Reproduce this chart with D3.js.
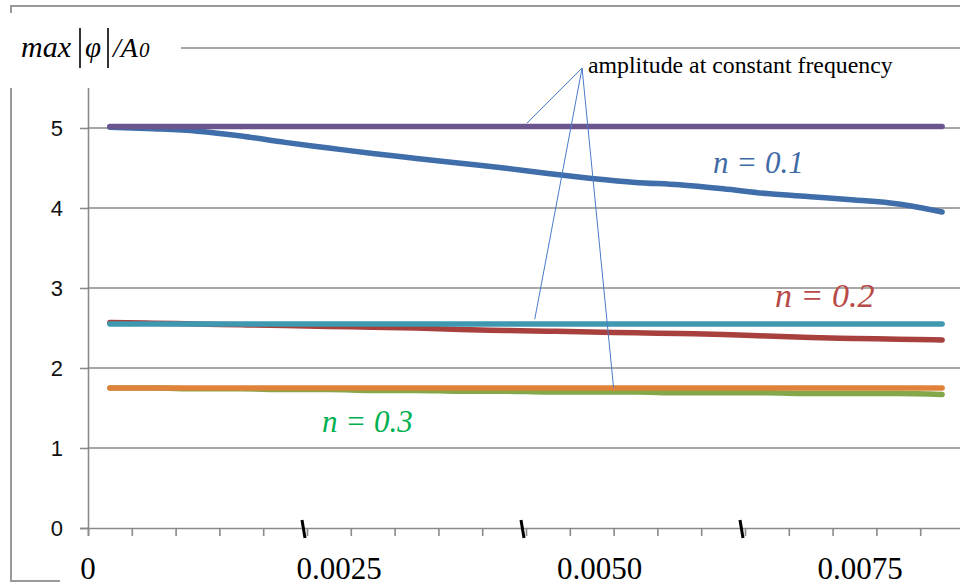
<!DOCTYPE html>
<html>
<head>
<meta charset="utf-8">
<script src="https://cdn.jsdelivr.net/npm/d3@7"></script>
<style>
  body { margin: 0; background: #fff; }
  svg { display: block; }
  .serif { font-family: "Liberation Serif", "Times New Roman", "DejaVu Serif", serif; }
</style>
</head>
<body>
<svg id="chart" width="960" height="586"></svg>
<script>
// x positions of the computed points
var xValues = [0.00025, 0.00075, 0.00125, 0.00175, 0.00225, 0.00275, 0.00325, 0.00375, 0.00425, 0.00475,
               0.00525, 0.00575, 0.00625, 0.00675, 0.00725, 0.00775, 0.00825, 0.00875, 0.00925, 0.00975];

// n = 0.1, 0.2, 0.3 and the matching constant frequency amplitudes
var n01 = [5.01, 4.99, 4.96, 4.90, 4.82, 4.75, 4.68, 4.62, 4.56, 4.50,
           4.43, 4.37, 4.32, 4.29, 4.24, 4.18, 4.14, 4.10, 4.05, 3.95];
var n02 = [2.57, 2.56, 2.55, 2.54, 2.53, 2.52, 2.51, 2.50, 2.48, 2.47,
           2.46, 2.45, 2.44, 2.43, 2.42, 2.40, 2.38, 2.37, 2.36, 2.35];
var n03 = [1.75, 1.75, 1.74, 1.74, 1.73, 1.73, 1.72, 1.72, 1.71, 1.71,
           1.70, 1.70, 1.70, 1.69, 1.69, 1.69, 1.68, 1.68, 1.68, 1.67];
var const01 = [5.02, 5.02, 5.02, 5.02, 5.02, 5.02, 5.02, 5.02, 5.02, 5.02,
               5.02, 5.02, 5.02, 5.02, 5.02, 5.02, 5.02, 5.02, 5.02, 5.02];
var const02 = [2.55, 2.55, 2.55, 2.55, 2.55, 2.55, 2.55, 2.55, 2.55, 2.55,
               2.55, 2.55, 2.55, 2.55, 2.55, 2.55, 2.55, 2.55, 2.55, 2.55];
var const03 = [1.75, 1.75, 1.75, 1.75, 1.75, 1.75, 1.75, 1.75, 1.75, 1.75,
               1.75, 1.75, 1.75, 1.75, 1.75, 1.75, 1.75, 1.75, 1.75, 1.75];

var yTicks = [0, 1, 2, 3, 4, 5, 6];
var xMinorTicks = [0, 0.0005, 0.001, 0.0015, 0.002, 0.0025, 0.003, 0.0035, 0.004, 0.0045,
                   0.005, 0.0055, 0.006, 0.0065, 0.007, 0.0075, 0.008, 0.0085, 0.009, 0.0095];
var xMajorTicks = [0.0025, 0.005, 0.0075];
var xTickLabels = ["0.0025", "0.0050", "0.0075"];

// drawn in this order: constant lines on top
var series = [
  { name: "n = 0.1", values: n01, color: "#3f6eaa" },
  { name: "n = 0.2", values: n02, color: "#a8413e" },
  { name: "n = 0.3", values: n03, color: "#83a849" },
  { name: "const 0.1", values: const01, color: "#6b558f" },
  { name: "const 0.2", values: const02, color: "#3e98b0" },
  { name: "const 0.3", values: const03, color: "#e0823a" }
];

var svg = d3.select("#chart");
var grey = "#8a8a8a";

var x = d3.scaleLinear().domain([0, 0.01]).range([88, 964]);
var y = d3.scaleLinear().domain([0, 6]).range([528, 48]);
// the typed tick labels sit a little right of their ticks
var xLabel = d3.scaleLinear().domain([0.0025, 0.0075]).range([339, 860]);

// outer frame
svg.append("path")
  .attr("d", "M11,582 L11,6 L960,6 M11,581 L60,581")
  .attr("fill", "none").attr("stroke", "#9a9a9a").attr("stroke-width", 2);

// gridlines
svg.append("g").selectAll("line")
  .data(yTicks.filter(function(d) { return d > 0; }))
  .enter().append("line")
  .attr("x1", 88).attr("x2", 960)
  .attr("y1", function(d) { return y(d); })
  .attr("y2", function(d) { return y(d); })
  .attr("stroke", grey).attr("stroke-width", 1.6);

// y axis
var yAxis = svg.append("g").attr("transform", "translate(88,0)")
  .call(d3.axisLeft(y).tickValues(yTicks).tickSize(8).tickPadding(17).tickFormat(d3.format("d")));
yAxis.select(".domain").attr("stroke", grey).attr("stroke-width", 1.6);
yAxis.selectAll(".tick line").attr("stroke", grey).attr("stroke-width", 1.6);
yAxis.selectAll(".tick text")
  .attr("font-family", "Liberation Sans, Arial, sans-serif")
  .attr("font-size", 22).attr("fill", "#111")
  .filter(function(d) { return d === 6; }).remove();

// x axis with minor ticks
var xAxis = svg.append("g").attr("transform", "translate(0," + y(0) + ")")
  .call(d3.axisBottom(x).tickValues(xMinorTicks).tickSize(8).tickFormat(""));
xAxis.select(".domain").attr("stroke", grey).attr("stroke-width", 1.6);
xAxis.selectAll(".tick line").attr("stroke", grey).attr("stroke-width", 1.6);

// hand drawn black marks at the labelled values
svg.append("g").selectAll("line")
  .data(xMajorTicks)
  .enter().append("line")
  .attr("x1", function(d) { return x(d) - 5; })
  .attr("x2", function(d) { return x(d) - 2; })
  .attr("y1", y(0) - 8).attr("y2", y(0) + 10)
  .attr("stroke", "#000").attr("stroke-width", 3);

// white boxes of the axis title and the tick label text
svg.append("rect").attr("x", 0).attr("y", 13).attr("width", 181).attr("height", 75).attr("fill", "#fff");
svg.append("rect").attr("x", 60).attr("y", 541).attr("width", 900).attr("height", 45).attr("fill", "#fff");

// x tick labels
svg.append("text").attr("class", "serif")
  .attr("x", x(0)).attr("y", 579)
  .attr("text-anchor", "middle")
  .attr("font-size", 31)
  .text("0");
svg.append("g").selectAll("text")
  .data(xMajorTicks)
  .enter().append("text").attr("class", "serif")
  .attr("x", function(d) { return xLabel(d); })
  .attr("y", 579)
  .attr("text-anchor", "middle")
  .attr("font-size", 31)
  .text(function(d, i) { return xTickLabels[i]; });

// y axis title  max|φ|/A0
var title = svg.append("g").attr("class", "serif").attr("font-style", "italic").attr("fill", "#000");
title.append("text").attr("x", 21).attr("y", 57).attr("font-size", 30).text("max");
title.append("text").attr("x", 85).attr("y", 57).attr("font-size", 29).text("φ");
var a0 = title.append("text").attr("x", 113).attr("y", 57).attr("font-size", 28);
a0.append("tspan").text("/A");
a0.append("tspan").attr("font-size", 21).attr("dx", 1).text("0");
title.selectAll("line")
  .data([80, 108])
  .enter().append("line")
  .attr("x1", function(d) { return d; }).attr("x2", function(d) { return d; })
  .attr("y1", 28).attr("y2", 68)
  .attr("stroke", "#000").attr("stroke-width", 1.6);

// series
var line = d3.line()
  .x(function(d, i) { return x(xValues[i]); })
  .y(function(d) { return y(d); })
  .curve(d3.curveMonotoneX);

svg.append("g").selectAll("path")
  .data(series)
  .enter().append("path")
  .attr("d", function(d) { return line(d.values); })
  .attr("fill", "none")
  .attr("stroke", function(d) { return d.color; })
  .attr("stroke-width", 5.5)
  .attr("stroke-linecap", "round")
  .attr("stroke-linejoin", "round");

// callout to the constant frequency lines
var calloutFrom = { x: 0.00564, y: 5.75 };
var calloutTo = [
  { x: 0.00501, y: 5.06 },
  { x: 0.0051, y: 2.61 },
  { x: 0.006, y: 1.75 }
];
svg.append("g").selectAll("line")
  .data(calloutTo)
  .enter().append("line")
  .attr("x1", x(calloutFrom.x)).attr("y1", y(calloutFrom.y))
  .attr("x2", function(d) { return x(d.x); })
  .attr("y2", function(d) { return y(d.y); })
  .attr("stroke", "#4a7bc8").attr("stroke-width", 1);

svg.append("text").attr("class", "serif")
  .attr("x", 588).attr("y", 73)
  .attr("font-size", 23.8)
  .text("amplitude at constant frequency");

// curve labels
var curveLabels = [
  { text: "n = 0.1", x: 713, y: 173, size: 31, color: "#3f6aa6" },
  { text: "n = 0.2", x: 775, y: 307, size: 34, color: "#b84a47" },
  { text: "n = 0.3", x: 322, y: 432, size: 31, color: "#00b050" }
];
svg.append("g").selectAll("text")
  .data(curveLabels)
  .enter().append("text").attr("class", "serif")
  .attr("x", function(d) { return d.x; })
  .attr("y", function(d) { return d.y; })
  .attr("font-style", "italic")
  .attr("font-size", function(d) { return d.size; })
  .attr("fill", function(d) { return d.color; })
  .text(function(d) { return d.text; });
</script>
</body>
</html>
